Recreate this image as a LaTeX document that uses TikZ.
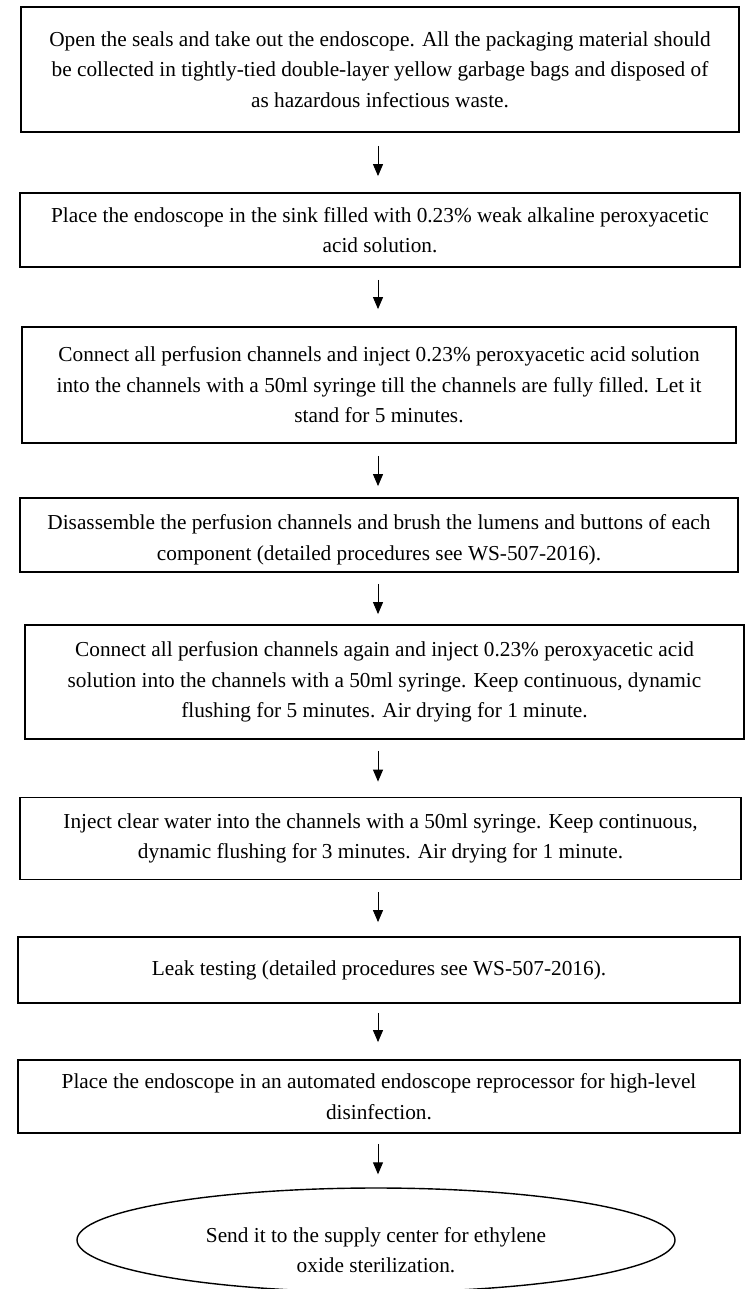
\documentclass[tikz,border=0pt]{standalone}
\usepackage{fontspec}
\setmainfont{Liberation Serif}
\usetikzlibrary{arrows.meta,shapes.geometric}
\begin{document}
\begin{tikzpicture}[x=1bp,y=-1bp,
  stepbox/.style={draw, line width=1.8bp, rectangle, inner sep=0pt, align=center,
    font=\fontsize{21.3bp}{30.5bp}\selectfont},
  txt/.style={align=center, inner sep=0pt, font=\fontsize{21.3bp}{30.5bp}\selectfont},
  arr/.style={line width=1bp, -{Triangle[length=12bp,width=10bp]}}]
\useasboundingbox (0,0) rectangle (748,1289);
\coordinate (ax) at (378,0);

\node[stepbox, minimum width=718bp, minimum height=125bp] (b1) at (380,69.5)
  {Open the seals and take out the endoscope. All the packaging material should\\
   be collected in tightly-tied double-layer yellow garbage bags and disposed of\\
   as hazardous infectious waste.};
\node[stepbox, minimum width=720bp, minimum height=74bp] (b2) at (380,230)
  {Place the endoscope in the sink filled with 0.23\% weak alkaline peroxyacetic\\
   acid solution.};
\node[stepbox, minimum width=714bp, minimum height=116bp] (b3) at (379,385)
  {Connect all perfusion channels and inject 0.23\% peroxyacetic acid solution\\
   into the channels with a 50ml syringe till the channels are fully filled. Let it\\
   stand for 5 minutes.};
\node[stepbox, minimum width=718bp, minimum height=74bp] (b4) at (379,535) {};
\node[txt] (t4) at (379,540)
  {Disassemble the perfusion channels and brush the lumens and buttons of each\\
   component (detailed procedures see WS-507-2016).};
\node[stepbox, minimum width=719bp, minimum height=114bp] (b5) at (384.5,682)
  {Connect all perfusion channels again and inject 0.23\% peroxyacetic acid\\
   solution into the channels with a 50ml syringe. Keep continuous, dynamic\\
   flushing for 5 minutes. Air drying for 1 minute.};
\node[stepbox, minimum width=721bp, minimum height=82bp] (b6) at (380.5,838.5)
  {Inject clear water into the channels with a 50ml syringe. Keep continuous,\\
   dynamic flushing for 3 minutes. Air drying for 1 minute.};
\node[stepbox, minimum width=722bp, minimum height=66bp] (b7) at (379,970)
  {Leak testing (detailed procedures see WS-507-2016).};
\node[stepbox, minimum width=722bp, minimum height=73bp] (b8) at (379,1096.5)
  {Place the endoscope in an automated endoscope reprocessor for high-level\\
   disinfection.};
\node[ellipse, draw, line width=1.4bp, minimum width=598bp, minimum height=104bp,
  inner sep=0pt] (e) at (376,1240) {};
\node[txt] (et) at (376,1250)
  {Send it to the supply center for ethylene\\ oxide sterilization.};

\draw[arr, shorten <=13bp, shorten >=16bp] (b1.south -| ax) -- (b2.north -| ax);
\draw[arr, shorten <=12bp, shorten >=17bp] (b2.south -| ax) -- (b3.north -| ax);
\draw[arr, shorten <=12bp, shorten >=11bp] (b3.south -| ax) -- (b4.north -| ax);
\draw[arr, shorten <=11bp, shorten >=10bp] (b4.south -| ax) -- (b5.north -| ax);
\draw[arr, shorten <=11bp, shorten >=15bp] (b5.south -| ax) -- (b6.north -| ax);
\draw[arr, shorten <=12bp, shorten >=14bp] (b6.south -| ax) -- (b7.north -| ax);
\draw[arr, shorten <=9bp, shorten >=17bp] (b7.south -| ax) -- (b8.north -| ax);
\draw[arr, shorten <=10bp, shorten >=13bp] (b8.south -| ax) -- (e.north -| ax);
\end{tikzpicture}
\end{document}
